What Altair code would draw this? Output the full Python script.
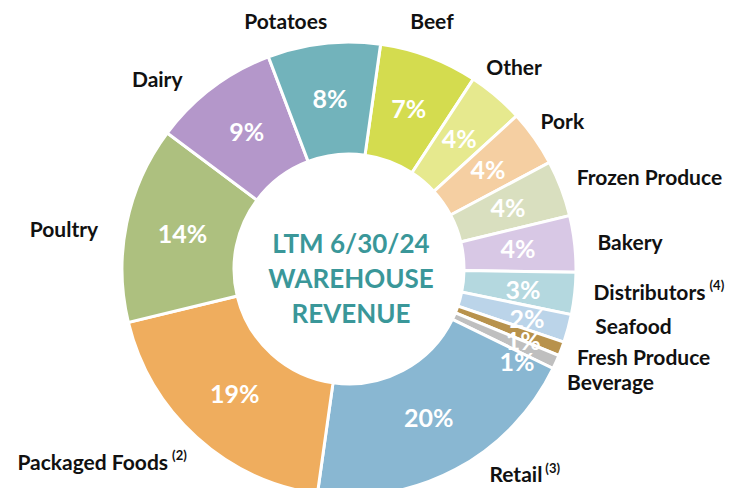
import math
import altair as alt
import pandas as pd

# ---- data ----
categories = ["Beef", "Other", "Pork", "Frozen Produce", "Bakery", "Distributors",
              "Seafood", "Fresh Produce", "Beverage", "Retail", "Packaged Foods",
              "Poultry", "Dairy", "Potatoes"]
shares = [7, 4, 4, 4, 4, 3, 2, 1, 1, 20, 19, 14, 9, 8]
colors = ["#d4dc4f", "#e6e98e", "#f5cfa2", "#d9dfbf", "#d8c8e5", "#b4d8df",
          "#bbd4e9", "#b8924c", "#bfbfbf", "#89b7d2", "#efad5e", "#adc07f",
          "#b497ca", "#72b3bb"]
notes = {"Distributors": "(4)", "Retail": "(3)", "Packaged Foods": "(2)"}
center_lines = ["LTM 6/30/24", "WAREHOUSE", "REVENUE"]

df = pd.DataFrame({"category": categories, "share": shares})
df["end"] = df["share"].cumsum()
df["start"] = df["end"] - df["share"]
df["mid"] = (df["start"] + df["end"]) / 2
df["pct"] = df["share"].astype(str) + "%"
df["note"] = df["category"].map(notes).fillna("")

# ---- styling ----
FONT = "Lato"
PAD_TOP = 6
CX, CY = 341, 261 - PAD_TOP
A0 = math.radians(8)
th = alt.Scale(domain=[0, 100], range=[A0, A0 + 2 * math.pi])
center = dict(x=alt.value(CX), y=alt.value(CY))

base = alt.Chart(df)

arcs = base.mark_arc(innerRadius=115, outerRadius=227, stroke="white",
                     strokeWidth=3).encode(
    theta=alt.Theta("start:Q", scale=th),
    theta2="end:Q",
    color=alt.Color("category:N", scale=alt.Scale(domain=categories, range=colors),
                    legend=None),
    **center,
)

# percent labels: (dx, dy) nudges for the crowded thin slices
pct_nudge = {"Distributors": (5, 4), "Seafood": (14, 6), "Fresh Produce": (15, 13),
             "Beverage": (13, 24)}
layers = [arcs]
plain = [c for c in categories if c not in pct_nudge]
layers.append(
    base.transform_filter(alt.FieldOneOfPredicate(field="category", oneOf=plain))
    .mark_text(radius=170, font=FONT, fontWeight="bold", fontSize=25, fill="white",
               baseline="middle")
    .encode(theta=alt.Theta("mid:Q", scale=th), text="pct:N", **center)
)
for c, (dx, dy) in pct_nudge.items():
    layers.append(
        base.transform_filter(alt.datum.category == c)
        .mark_text(radius=170, font=FONT, fontWeight="bold", fontSize=25, fill="white",
                   baseline="middle", dx=dx, dy=dy)
        .encode(theta=alt.Theta("mid:Q", scale=th), text="pct:N", **center)
    )

# outer category labels: align, dx, dy relative to the slice's mid-angle at r=250
lab_style = {
    "Beef": ("center", -5, -12),
    "Other": ("center", 3, -10),
    "Pork": ("center", 9, -2),
    "Frozen Produce": ("left", -6, -1),
    "Bakery": ("left", 0, 3),
    "Distributors": ("left", -4, -2),
    "Seafood": ("left", 5, -7),
    "Fresh Produce": ("left", -6, 2),
    "Beverage": ("left", -10, 13),
    "Retail": ("right", 76, -14),
    "Packaged Foods": ("right", -13, 10),
    "Poultry": ("right", -6, 12),
    "Dairy": ("right", -16, 12),
    "Potatoes": ("right", 6, 2),
}
for c, (al, dx, dy) in lab_style.items():
    layers.append(
        base.transform_filter(alt.datum.category == c)
        .mark_text(radius=250, font=FONT, fontWeight="bold", fontSize=21, fill="#111111",
                   baseline="middle", align=al, dx=dx, dy=dy)
        .encode(theta=alt.Theta("mid:Q", scale=th), text="category:N", **center)
    )

# footnote markers (superscripts)
note_style = {"Distributors": ("left", 112, -10), "Retail": ("left", 79, -21),
              "Packaged Foods": ("left", -9, 2)}
for c, (al, dx, dy) in note_style.items():
    layers.append(
        base.transform_filter(alt.datum.category == c)
        .mark_text(radius=250, font=FONT, fontWeight="bold", fontSize=13, fill="#111111",
                   baseline="middle", align=al, dx=dx, dy=dy)
        .encode(theta=alt.Theta("mid:Q", scale=th), text="note:N", **center)
    )

# center title
title = alt.Chart(pd.DataFrame({"t": [center_lines]})).mark_text(
    font=FONT, fontWeight="bold", fontSize=26, fill="#3a9799", align="center",
    baseline="middle", lineHeight=35, dx=2, dy=-24,
).encode(text="t", x=alt.value(CX), y=alt.value(CY))
layers.append(title)

chart = alt.layer(*layers).properties(
    width=717, height=474,
    padding={"left": 0, "top": PAD_TOP, "right": 0, "bottom": 0},
    autosize=alt.AutoSizeParams(type="none"),
).configure_view(stroke=None)

chart.save("out.html", embed_options={"renderer": "svg", "actions": False})
